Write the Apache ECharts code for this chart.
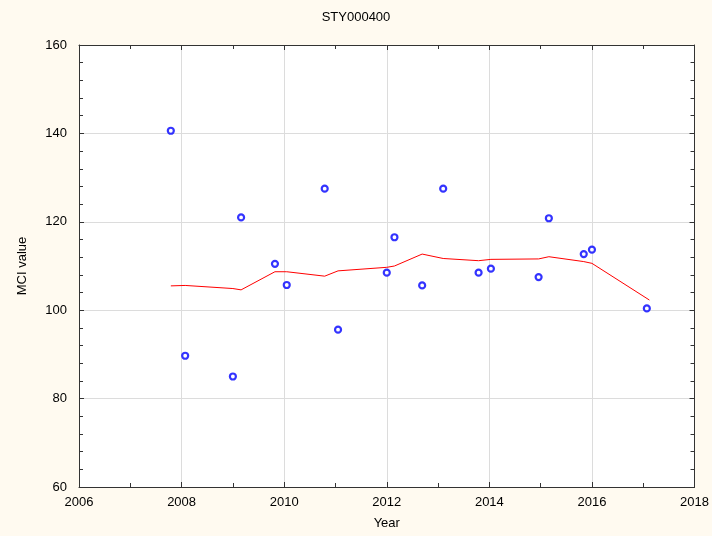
<!DOCTYPE html>
<html><head><meta charset="utf-8">
<script src="https://cdn.jsdelivr.net/npm/echarts@6/dist/echarts.min.js"></script>
<style>html,body{margin:0;padding:0;background:#fffaf0;}#c{width:712px;height:536px;}</style>
</head><body><div id="c"></div>
<script>
const title = 'STY000400';
const xName = 'Year';
const yName = 'MCI value';
const pointYears = [2007.79, 2008.07, 2009.0, 2009.16, 2009.82, 2010.05, 2010.79, 2011.05, 2012.0, 2012.15, 2012.69, 2013.1, 2013.79, 2014.03, 2014.96, 2015.16, 2015.84, 2016.0, 2017.07];
const pointValues = [140.6, 89.7, 85.0, 121.0, 110.5, 105.7, 127.5, 95.6, 108.5, 116.5, 105.6, 127.5, 108.5, 109.4, 107.5, 120.8, 112.7, 113.7, 100.4];
const trendYears = [2007.79, 2008.07, 2009.0, 2009.16, 2009.82, 2010.05, 2010.79, 2011.05, 2012.0, 2012.15, 2012.69, 2013.1, 2013.79, 2014.03, 2014.96, 2015.16, 2015.84, 2016.0, 2017.12];
const trendValues = [105.5, 105.6, 104.9, 104.6, 108.7, 108.7, 107.7, 108.9, 109.7, 110.0, 112.7, 111.7, 111.2, 111.5, 111.6, 112.1, 111.0, 110.6, 102.3];

const font = 'Liberation Sans, Arial, sans-serif';
const axisColor = '#333';
const chart = echarts.init(document.getElementById('c'));
const xBase = {type:'value', min:2006, max:2018, interval:2};
const yBase = {type:'value', min:60, max:160, interval:20};
chart.setOption({
  backgroundColor:'#fffaf0',
  animation:false,
  title:{text:title, left:'center', top:6, textStyle:{fontFamily:font, fontSize:13, fontWeight:'normal', color:'#000'}},
  grid:{left:79, right:16, top:45, bottom:49, show:true, backgroundColor:'#ffffff', borderWidth:0},
  xAxis:[
    Object.assign({}, xBase, {position:'bottom', name:xName, nameLocation:'middle', nameGap:30,
      nameTextStyle:{fontFamily:font, fontSize:13, color:'#000'},
      axisLine:{show:true, lineStyle:{color:axisColor}},
      axisTick:{show:true, inside:true, length:5, lineStyle:{color:axisColor}},
      minorTick:{show:true, splitNumber:2, length:4, lineStyle:{color:axisColor}},
      axisLabel:{fontFamily:font, fontSize:13, color:'#000', margin:9, formatter:v=>String(v)},
      splitLine:{show:true, lineStyle:{color:'#dcdcdc'}}}),
    Object.assign({}, xBase, {position:'top',
      axisLine:{show:true, lineStyle:{color:axisColor}},
      axisTick:{show:true, inside:true, length:5, lineStyle:{color:axisColor}},
      minorTick:{show:true, splitNumber:2, length:4, lineStyle:{color:axisColor}},
      axisLabel:{show:false}, splitLine:{show:false}})
  ],
  yAxis:[
    Object.assign({}, yBase, {position:'left', name:yName, nameLocation:'middle', nameGap:50,
      nameTextStyle:{fontFamily:font, fontSize:13, color:'#000'},
      axisLine:{show:true, lineStyle:{color:axisColor}},
      axisTick:{show:true, inside:true, length:5, lineStyle:{color:axisColor}},
      minorTick:{show:true, splitNumber:5, length:4, lineStyle:{color:axisColor}},
      axisLabel:{fontFamily:font, fontSize:13, color:'#000', margin:12},
      splitLine:{show:true, lineStyle:{color:'#dcdcdc'}}}),
    Object.assign({}, yBase, {position:'right',
      axisLine:{show:true, lineStyle:{color:axisColor}},
      axisTick:{show:true, inside:true, length:5, lineStyle:{color:axisColor}},
      minorTick:{show:true, splitNumber:5, length:4, lineStyle:{color:axisColor}},
      axisLabel:{show:false}, splitLine:{show:false}})
  ],
  series:[
    {type:'line', xAxisIndex:0, yAxisIndex:0, data:trendYears.map((x,i)=>[x,trendValues[i]]),
      showSymbol:false, lineStyle:{color:'#ff0000', width:1}, z:2},
    {type:'scatter', xAxisIndex:0, yAxisIndex:0, data:pointYears.map((x,i)=>[x,pointValues[i]]),
      symbol:'circle', symbolSize:6, itemStyle:{color:'#ffffff', borderColor:'#0000ff', borderWidth:2.2}, z:3}
  ]
});
</script></body></html>
